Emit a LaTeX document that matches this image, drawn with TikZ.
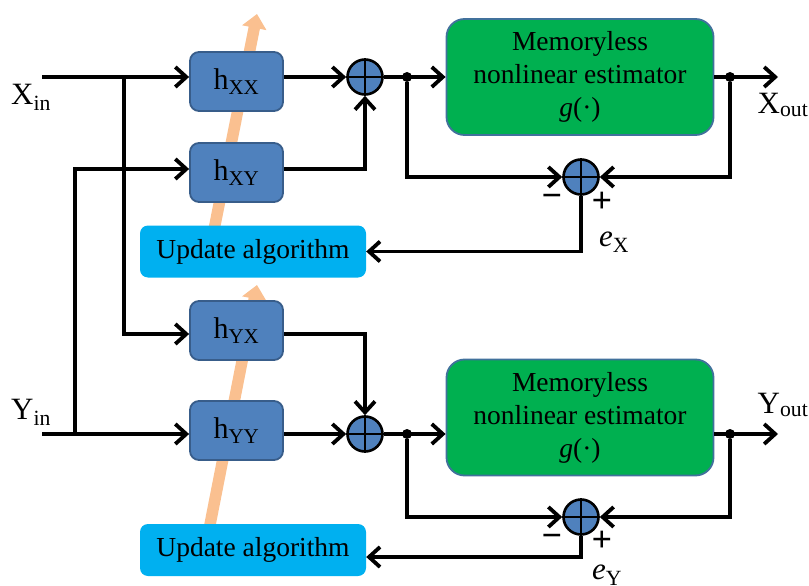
\documentclass[tikz,border=0pt]{standalone}
\usepackage{fontspec}
\setmainfont{Liberation Serif}
\usetikzlibrary{arrows.meta}

\definecolor{filtblue}{HTML}{4F81BD}
\definecolor{filtedge}{HTML}{385D8A}
\definecolor{estgreen}{HTML}{00B050}
\definecolor{estedge}{HTML}{41719C}
\definecolor{updcyan}{HTML}{00B0F0}
\definecolor{adaptorange}{HTML}{FAC090}

\tikzset{
	filt/.style={draw=filtedge, fill=filtblue, line width=1.8pt, rounded corners=9pt,
		minimum width=93pt, minimum height=59pt, inner sep=0pt, font=\fontsize{30}{34}\selectfont},
	est/.style={draw=estedge, fill=estgreen, line width=1.8pt, rounded corners=18pt,
		minimum width=267pt, minimum height=116pt, inner sep=0pt, align=center,
		font=\fontsize{27.5}{33}\selectfont},
	upd/.style={fill=updcyan, rounded corners=8pt, minimum width=226pt, minimum height=52pt,
		inner sep=0pt, font=\fontsize{27.5}{33}\selectfont},
	summ/.style={circle, draw, fill=filtblue, line width=2.6pt, minimum size=35pt, inner sep=0pt},
	dot/.style={circle, fill, inner sep=0pt, minimum size=10pt},
	sig/.style={line width=3.8pt, -{Straight Barb[length=11pt,width=20pt]}},
	adapt/.style={draw=adaptorange, line width=11.5pt, -{Triangle[length=14pt,width=24pt]}},
	lab/.style={inner sep=0pt, font=\fontsize{31}{34}\selectfont},
	sgn/.style={inner sep=0pt, font=\fontsize{36}{40}\selectfont\bfseries},
}

\begin{document}
\begin{tikzpicture}[x=1pt, y=-1pt]
	\useasboundingbox (0,0) rectangle (809,586);

	% adaptation arrows, behind the filters
	\coordinate (ax0) at (207,265);
	\coordinate (ax1) at (257,14);
	\coordinate (ay0) at (207,540);
	\coordinate (ay1) at (257,285);
	\draw[adapt] (ax0) -- (ax1);
	\draw[adapt] (ay0) -- (ay1);

	% blocks
	\node[filt] (hxx) at (236.5,81.5) {h\textsubscript{XX}};
	\node[filt] (hxy) at (236.5,172.5) {h\textsubscript{XY}};
	\node[filt] (hyx) at (236.5,330.5) {h\textsubscript{YX}};
	\node[filt] (hyy) at (236.5,430.5) {h\textsubscript{YY}};
	\node[upd] (ux) at (253,251.5) {Update algorithm};
	\node[upd] (uy) at (253,550) {Update algorithm};
	\node[est] (gx) at (580,77) {Memoryless\\nonlinear estimator\\\textit{g}(·)};
	\node[est] (gy) at (580,417.5) {Memoryless\\nonlinear estimator\\\textit{g}(·)};

	% summing points
	\node[summ] (sx) at (365,77) {};
	\node[summ] (sy) at (365,434) {};
	\node[summ] (ex) at (581,177) {};
	\node[summ] (ey) at (581,517) {};
	\foreach \s in {sx,sy,ex,ey}
		\draw[line width=2.6pt] (\s.north) -- (\s.south) (\s.west) -- (\s.east);

	% branch points
	\node[dot] (dx1) at (407,77) {};
	\node[dot] (dx2) at (730,77) {};
	\node[dot] (dy1) at (407,434) {};
	\node[dot] (dy2) at (730,434) {};
	\coordinate (xin) at (42,77);
	\coordinate (yin) at (42,434);
	\coordinate (jx) at (124,77);
	\coordinate (jxb) at (124,334);
	\coordinate (jy) at (75,434);
	\coordinate (jyt) at (75,169);
	\coordinate (xout) at (778,77);
	\coordinate (yout) at (778,434);
	\coordinate (eyc) at (581,557);

	% labels
	\node[lab] (lxin) at (31,97) {X\textsubscript{in}};
	\node[lab] (lyin) at (31,412) {Y\textsubscript{in}};
	\node[lab] (lxout) at (783,105) {X\textsubscript{out}};
	\node[lab] (lyout) at (783,405) {Y\textsubscript{out}};
	\node[lab] (lex) at (614,242) {\textit{e}\textsubscript{X}};
	\node[lab] (ley) at (607,575) {\textit{e}\textsubscript{Y}};
	\node[sgn] (mx) at (552,201) {−};
	\node[sgn] (px) at (602,202) {+};
	\node[sgn] (my) at (552,541) {−};
	\node[sgn] (py) at (602,541) {+};

	% X branch
	\draw[sig] (xin) -- (xin -| hxx.west);
	\draw[sig] (jx) -- (jxb) -- (jxb -| hyx.west);
	\draw[sig] (hxx.east |- xin) -- (sx);
	\draw[sig] (hxy.east |- jyt) -| (sx.south);
	\draw[sig] (sx) -- (gx);
	\draw[sig] (gx) -- (xout);
	\draw[sig] (dx1) |- (ex);
	\draw[sig] (dx2) |- (ex);
	\draw[sig] (ex) |- (ux);

	% Y branch
	\draw[sig] (yin) -- (yin -| hyy.west);
	\draw[sig] (jy) -- (jyt) -- (jyt -| hxy.west);
	\draw[sig] (hyy.east |- yin) -- (sy);
	\draw[sig] (hyx.east |- jxb) -| (sy.north);
	\draw[sig] (sy) -- (sy -| gy.west);
	\draw[sig] (gy.east |- sy) -- (yout);
	\draw[sig] (dy1) |- (ey);
	\draw[sig] (dy2) |- (ey);
	\draw[sig] (ey) -- (eyc) -- (eyc -| uy.east);
\end{tikzpicture}
\end{document}
